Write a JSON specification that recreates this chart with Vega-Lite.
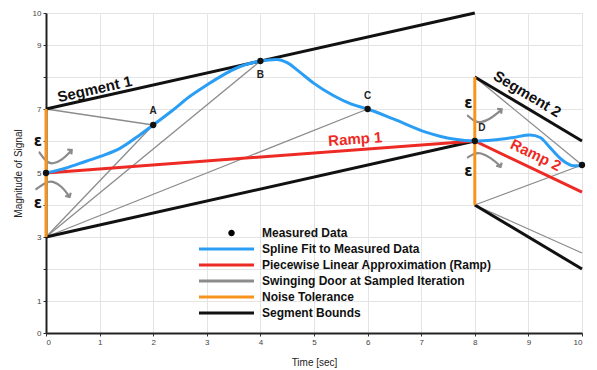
{
  "$schema": "https://vega.github.io/schema/vega-lite/v6.json",
  "width": 536,
  "height": 320,
  "autosize": {"type": "none"},
  "padding": {"left": 46, "top": 13, "right": 15, "bottom": 37},
  "config": {
    "font": "Liberation Sans",
    "view": {"stroke": null},
    "axis": {"gridColor": "#e4e4e4", "gridWidth": 1, "domainColor": "#222", "domainWidth": 2, "tickColor": "#333", "tickSize": 3, "labelFontSize": 8, "labelColor": "#444", "titleFontSize": 10, "titleFontWeight": "normal", "titleColor": "#222"}
  },
  "resolve": {"axis": {"y": "independent"}},
  "datasets": {
    "lines": [
      {"s": "Swinging Door at Sampled Iteration", "g": "d1", "t": 0, "y": 7},
      {"s": "Swinging Door at Sampled Iteration", "g": "d1", "t": 2, "y": 6.5},
      {"s": "Swinging Door at Sampled Iteration", "g": "d2", "t": 0, "y": 3},
      {"s": "Swinging Door at Sampled Iteration", "g": "d2", "t": 2, "y": 6.5},
      {"s": "Swinging Door at Sampled Iteration", "g": "d3", "t": 0, "y": 3},
      {"s": "Swinging Door at Sampled Iteration", "g": "d3", "t": 4, "y": 8.5},
      {"s": "Swinging Door at Sampled Iteration", "g": "d4", "t": 0, "y": 3},
      {"s": "Swinging Door at Sampled Iteration", "g": "d4", "t": 6, "y": 7},
      {"s": "Swinging Door at Sampled Iteration", "g": "d5", "t": 8, "y": 8},
      {"s": "Swinging Door at Sampled Iteration", "g": "d5", "t": 10, "y": 5.25},
      {"s": "Swinging Door at Sampled Iteration", "g": "d6", "t": 8, "y": 4},
      {"s": "Swinging Door at Sampled Iteration", "g": "d6", "t": 10, "y": 5.25},
      {"s": "Swinging Door at Sampled Iteration", "g": "d7", "t": 8, "y": 4},
      {"s": "Swinging Door at Sampled Iteration", "g": "d7", "t": 10, "y": 2.5},
      {"s": "Segment Bounds", "g": "b1", "t": 0, "y": 7},
      {"s": "Segment Bounds", "g": "b1", "t": 8, "y": 10},
      {"s": "Segment Bounds", "g": "b2", "t": 0, "y": 3},
      {"s": "Segment Bounds", "g": "b2", "t": 8, "y": 6},
      {"s": "Segment Bounds", "g": "b3", "t": 8, "y": 8},
      {"s": "Segment Bounds", "g": "b3", "t": 10, "y": 6},
      {"s": "Segment Bounds", "g": "b4", "t": 8, "y": 4},
      {"s": "Segment Bounds", "g": "b4", "t": 10, "y": 2},
      {"s": "Noise Tolerance", "g": "n1", "t": 0, "y": 3},
      {"s": "Noise Tolerance", "g": "n1", "t": 0, "y": 7},
      {"s": "Noise Tolerance", "g": "n2", "t": 8, "y": 4},
      {"s": "Noise Tolerance", "g": "n2", "t": 8, "y": 8},
      {"s": "Piecewise Linear Approximation (Ramp)", "g": "r", "t": 0, "y": 5},
      {"s": "Piecewise Linear Approximation (Ramp)", "g": "r", "t": 8, "y": 6},
      {"s": "Piecewise Linear Approximation (Ramp)", "g": "r", "t": 10, "y": 4.4}
    ],
    "spline": [
      {"s": "Spline Fit to Measured Data", "t": 0, "y": 5.0},
      {"s": "Spline Fit to Measured Data", "t": 0.3, "y": 5.12},
      {"s": "Spline Fit to Measured Data", "t": 0.63, "y": 5.3},
      {"s": "Spline Fit to Measured Data", "t": 1.0, "y": 5.51},
      {"s": "Spline Fit to Measured Data", "t": 1.38, "y": 5.77},
      {"s": "Spline Fit to Measured Data", "t": 1.75, "y": 6.19},
      {"s": "Spline Fit to Measured Data", "t": 2.0, "y": 6.5},
      {"s": "Spline Fit to Measured Data", "t": 2.37, "y": 6.97},
      {"s": "Spline Fit to Measured Data", "t": 2.68, "y": 7.39},
      {"s": "Spline Fit to Measured Data", "t": 3.0, "y": 7.75},
      {"s": "Spline Fit to Measured Data", "t": 3.3, "y": 8.06},
      {"s": "Spline Fit to Measured Data", "t": 3.61, "y": 8.32},
      {"s": "Spline Fit to Measured Data", "t": 4.0, "y": 8.5},
      {"s": "Spline Fit to Measured Data", "t": 4.3, "y": 8.55},
      {"s": "Spline Fit to Measured Data", "t": 4.5, "y": 8.45},
      {"s": "Spline Fit to Measured Data", "t": 4.73, "y": 8.16},
      {"s": "Spline Fit to Measured Data", "t": 5.0, "y": 7.8},
      {"s": "Spline Fit to Measured Data", "t": 5.36, "y": 7.42},
      {"s": "Spline Fit to Measured Data", "t": 5.7, "y": 7.15},
      {"s": "Spline Fit to Measured Data", "t": 6.0, "y": 7.0},
      {"s": "Spline Fit to Measured Data", "t": 6.48, "y": 6.69},
      {"s": "Spline Fit to Measured Data", "t": 7.1, "y": 6.27},
      {"s": "Spline Fit to Measured Data", "t": 7.6, "y": 6.06},
      {"s": "Spline Fit to Measured Data", "t": 8.0, "y": 6.0},
      {"s": "Spline Fit to Measured Data", "t": 8.34, "y": 6.03},
      {"s": "Spline Fit to Measured Data", "t": 8.72, "y": 6.11},
      {"s": "Spline Fit to Measured Data", "t": 9.03, "y": 6.19},
      {"s": "Spline Fit to Measured Data", "t": 9.22, "y": 6.11},
      {"s": "Spline Fit to Measured Data", "t": 9.4, "y": 5.8},
      {"s": "Spline Fit to Measured Data", "t": 9.65, "y": 5.38},
      {"s": "Spline Fit to Measured Data", "t": 9.84, "y": 5.23},
      {"s": "Spline Fit to Measured Data", "t": 10, "y": 5.23}
    ],
    "measured": [
      {"t": 0, "y": 5, "label": ""},
      {"t": 2, "y": 6.5, "label": "A"},
      {"t": 4, "y": 8.5, "label": "B"},
      {"t": 6, "y": 7, "label": "C"},
      {"t": 8, "y": 6, "label": "D"},
      {"t": 10, "y": 5.25, "label": ""}
    ],
    "pointLabels": [
      {"label": "A", "t": 2.0, "y": 6.95},
      {"label": "B", "t": 4.0, "y": 8.05},
      {"label": "C", "t": 6.0, "y": 7.42},
      {"label": "D", "t": 8.13, "y": 6.4}
    ],
    "arrows": [
      {"a": "L1", "k": 1, "t": -0.12, "y": 5.64},
      {"a": "L1", "k": 2, "t": 0.0, "y": 5.35},
      {"a": "L1", "k": 3, "t": 0.12, "y": 5.27},
      {"a": "L1", "k": 4, "t": 0.3, "y": 5.4},
      {"a": "L1", "k": 5, "t": 0.46, "y": 5.68},
      {"a": "L2", "k": 1, "t": -0.18, "y": 4.5},
      {"a": "L2", "k": 2, "t": 0.0, "y": 4.72},
      {"a": "L2", "k": 3, "t": 0.12, "y": 4.76},
      {"a": "L2", "k": 4, "t": 0.3, "y": 4.58},
      {"a": "L2", "k": 5, "t": 0.42, "y": 4.3},
      {"a": "R1", "k": 1, "t": 7.87, "y": 6.79},
      {"a": "R1", "k": 2, "t": 8.0, "y": 6.6},
      {"a": "R1", "k": 3, "t": 8.12, "y": 6.57},
      {"a": "R1", "k": 4, "t": 8.3, "y": 6.7},
      {"a": "R1", "k": 5, "t": 8.48, "y": 6.95},
      {"a": "R2", "k": 1, "t": 7.87, "y": 5.49},
      {"a": "R2", "k": 2, "t": 8.0, "y": 5.62},
      {"a": "R2", "k": 3, "t": 8.1, "y": 5.64},
      {"a": "R2", "k": 4, "t": 8.3, "y": 5.48},
      {"a": "R2", "k": 5, "t": 8.46, "y": 5.24}
    ],
    "arrowHeads": [
      {"a": "L1", "t": 0.48, "y": 5.72},
      {"a": "L2", "t": 0.44, "y": 4.25},
      {"a": "R1", "t": 8.5, "y": 6.99},
      {"a": "R2", "t": 8.48, "y": 5.19}
    ],
    "eps": [
      {"text": "ε", "t": -0.15, "y": 6.0},
      {"text": "ε", "t": -0.15, "y": 4.05},
      {"text": "ε", "t": 7.88, "y": 7.18},
      {"text": "ε", "t": 7.88, "y": 5.05}
    ],
    "names": [
      {"text": "Segment 1", "t": 0.91, "y": 7.62},
      {"text": "Segment 2", "t": 8.98, "y": 7.47},
      {"text": "Ramp 1", "t": 5.77, "y": 6.06},
      {"text": "Ramp 2", "t": 9.14, "y": 5.56}
    ]
  },
  "layer": [
    {
      "data": {"name": "arrows"},
      "mark": {"type": "line", "interpolate": "basis", "color": "#8a8a8a", "strokeWidth": 2.2, "strokeCap": "round"},
      "encoding": {
        "x": {"field": "t", "type": "quantitative", "scale": {"domain": [0, 10], "nice": false}, "axis": {"values": [0,1,2,3,4,5,6,7,8,9,10], "title": "Time [sec]", "titlePadding": 11, "labelPadding": 2}},
        "y": {"field": "y", "type": "quantitative", "scale": {"domain": [0, 10], "nice": false}, "axis": {"orient": "left", "values": [2,4,6,8], "labels": false, "title": null, "domain": false, "grid": true, "ticks": true}},
        "detail": {"field": "a"},
        "order": {"field": "k"}
      }
    },
    {
      "data": {"name": "arrowHeads"},
      "transform": [{"filter": "datum.a === 'L1' || datum.a === 'R1'"}],
      "mark": {"type": "point", "shape": "M-1,-1L0,0L-1,1", "filled": false, "stroke": "#8a8a8a", "strokeWidth": 2.2, "size": 40, "angle": 320, "opacity": 1},
      "encoding": {
        "x": {"field": "t", "type": "quantitative"},
        "y": {"field": "y", "type": "quantitative", "axis": null}
      }
    },
    {
      "data": {"name": "arrowHeads"},
      "transform": [{"filter": "datum.a === 'L2' || datum.a === 'R2'"}],
      "mark": {"type": "point", "shape": "M-1,-1L0,0L-1,1", "filled": false, "stroke": "#8a8a8a", "strokeWidth": 2.2, "size": 40, "angle": 60, "opacity": 1},
      "encoding": {
        "x": {"field": "t", "type": "quantitative"},
        "y": {"field": "y", "type": "quantitative", "axis": null}
      }
    },
    {
      "data": {"name": "lines"},
      "transform": [{"filter": "datum.s === 'Swinging Door at Sampled Iteration'"}],
      "mark": {"type": "line", "strokeWidth": 1.3},
      "encoding": {
        "x": {"field": "t", "type": "quantitative"},
        "y": {"field": "y", "type": "quantitative", "axis": {"orient": "left", "values": [0,1,3,5,7,9,10], "title": "Magnitude of Signal", "titlePadding": 9, "labelPadding": 2, "labelOverlap": false, "grid": true}},
        "detail": {"field": "g"},
        "color": {
          "field": "s", "type": "nominal",
          "scale": {
            "domain": ["Measured Data", "Spline Fit to Measured Data", "Piecewise Linear Approximation (Ramp)", "Swinging Door at Sampled Iteration", "Noise Tolerance", "Segment Bounds"],
            "range": ["#000000", "#2a9df4", "#ee2a24", "#8c8c8c", "#f7941d", "#111111"]
          },
          "legend": {
            "title": null,
            "orient": "none",
            "legendX": 152,
            "legendY": 214,
            "symbolType": "M-1,0H10",
            "symbolSize": 100,
            "symbolStrokeWidth": 3,
            "labelFontSize": 12,
            "labelFontWeight": "bold",
            "labelColor": "#111",
            "labelLimit": 400,
            "labelOffset": 52,
            "rowPadding": 4,
            "encode": {
              "symbols": {
                "update": {
                  "shape": {"signal": "datum.label === 'Measured Data' ? 'M6.15,0A0.65,0.65 0 1,1 4.85,0A0.65,0.65 0 1,1 6.15,0Z' : 'M-1,0H10'"},
                  "fill": {"signal": "datum.label === 'Measured Data' ? '#000' : 'transparent'"},
                  "strokeWidth": {"signal": "datum.label === 'Measured Data' ? 0 : 3"},
                  "fillOpacity": {"value": 1}
                }
              }
            }
          }
        }
      }
    },
    {
      "data": {"name": "lines"},
      "transform": [{"filter": "datum.s === 'Segment Bounds'"}],
      "mark": {"type": "line", "strokeWidth": 3},
      "encoding": {
        "x": {"field": "t", "type": "quantitative"},
        "y": {"field": "y", "type": "quantitative", "axis": null},
        "detail": {"field": "g"},
        "color": {"field": "s", "type": "nominal"}
      }
    },
    {
      "data": {"name": "lines"},
      "transform": [{"filter": "datum.s === 'Noise Tolerance'"}],
      "mark": {"type": "line", "strokeWidth": 3},
      "encoding": {
        "x": {"field": "t", "type": "quantitative"},
        "y": {"field": "y", "type": "quantitative", "axis": null},
        "detail": {"field": "g"},
        "color": {"field": "s", "type": "nominal"}
      }
    },
    {
      "data": {"name": "lines"},
      "transform": [{"filter": "datum.s === 'Piecewise Linear Approximation (Ramp)'"}],
      "mark": {"type": "line", "strokeWidth": 3},
      "encoding": {
        "x": {"field": "t", "type": "quantitative"},
        "y": {"field": "y", "type": "quantitative", "axis": null},
        "detail": {"field": "g"},
        "color": {"field": "s", "type": "nominal"}
      }
    },
    {
      "data": {"name": "spline"},
      "mark": {"type": "line", "strokeWidth": 3, "interpolate": "monotone"},
      "encoding": {
        "x": {"field": "t", "type": "quantitative"},
        "y": {"field": "y", "type": "quantitative", "axis": null},
        "color": {"field": "s", "type": "nominal"}
      }
    },
    {
      "data": {"name": "measured"},
      "mark": {"type": "point", "filled": true, "color": "#111", "size": 40, "opacity": 1},
      "encoding": {
        "x": {"field": "t", "type": "quantitative"},
        "y": {"field": "y", "type": "quantitative", "axis": null}
      }
    },
    {
      "data": {"name": "pointLabels"},
      "mark": {"type": "text", "fontSize": 10, "fontWeight": "bold", "color": "#222"},
      "encoding": {
        "x": {"field": "t", "type": "quantitative"},
        "y": {"field": "y", "type": "quantitative", "axis": null},
        "text": {"field": "label"}
      }
    },
    {
      "data": {"name": "eps"},
      "mark": {"type": "text", "fontSize": 15, "fontWeight": "bold", "color": "#111", "font": "DejaVu Sans"},
      "encoding": {
        "x": {"field": "t", "type": "quantitative"},
        "y": {"field": "y", "type": "quantitative", "axis": null},
        "text": {"field": "text"}
      }
    },
    {
      "data": {"name": "names"},
      "transform": [{"filter": "datum.text === 'Segment 1'"}],
      "mark": {"type": "text", "fontSize": 15, "fontWeight": "bold", "color": "#111", "angle": 347.4},
      "encoding": {
        "x": {"field": "t", "type": "quantitative"},
        "y": {"field": "y", "type": "quantitative", "axis": null},
        "text": {"field": "text"}
      }
    },
    {
      "data": {"name": "names"},
      "transform": [{"filter": "datum.text === 'Segment 2'"}],
      "mark": {"type": "text", "fontSize": 15, "fontWeight": "bold", "color": "#111", "angle": 31},
      "encoding": {
        "x": {"field": "t", "type": "quantitative"},
        "y": {"field": "y", "type": "quantitative", "axis": null},
        "text": {"field": "text"}
      }
    },
    {
      "data": {"name": "names"},
      "transform": [{"filter": "datum.text === 'Ramp 1'"}],
      "mark": {"type": "text", "fontSize": 15, "fontWeight": "bold", "color": "#ee2a24", "angle": 356},
      "encoding": {
        "x": {"field": "t", "type": "quantitative"},
        "y": {"field": "y", "type": "quantitative", "axis": null},
        "text": {"field": "text"}
      }
    },
    {
      "data": {"name": "names"},
      "transform": [{"filter": "datum.text === 'Ramp 2'"}],
      "mark": {"type": "text", "fontSize": 15, "fontWeight": "bold", "color": "#ee2a24", "angle": 26},
      "encoding": {
        "x": {"field": "t", "type": "quantitative"},
        "y": {"field": "y", "type": "quantitative", "axis": null},
        "text": {"field": "text"}
      }
    }
  ]
}
